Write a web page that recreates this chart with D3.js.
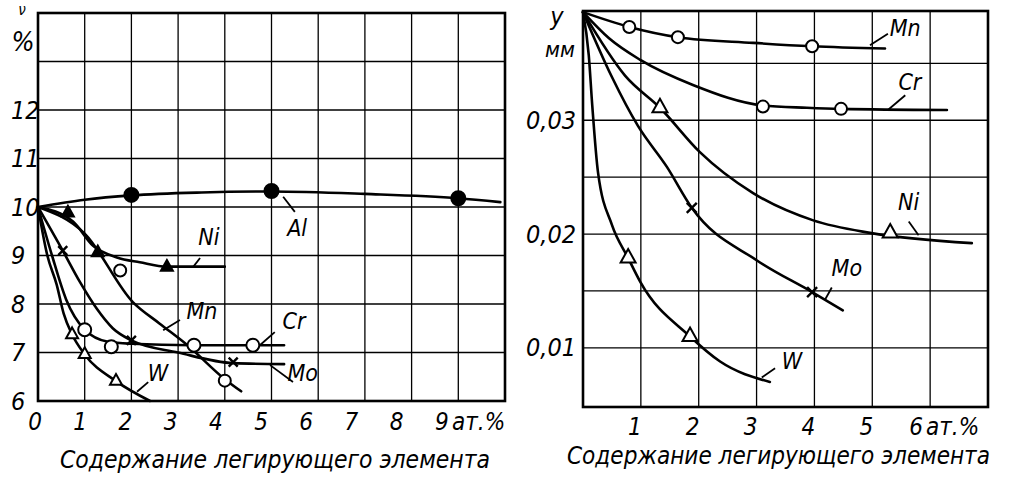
<!DOCTYPE html>
<html>
<head>
<meta charset="utf-8">
<script src="https://cdn.jsdelivr.net/npm/d3@7"></script>
<style>
body{margin:0;background:#fff}
text{font-family:"Liberation Sans Narrow","DejaVu Sans Condensed","Liberation Sans",sans-serif;font-style:italic;fill:#000}
</style>
</head>
<body>
<svg id="fig" width="1024" height="481"></svg>
<script>
// ---- гр. слева : % против ат.% ----
const gaucheXTicks = [0,1,2,3,4,5,6,7,8,9];
const gaucheYTicks = [6,7,8,9,10,11,12];

const alCourbe = [[0,10],[1,10.15],[2,10.24],[3.5,10.3],[5,10.32],[7,10.27],[9,10.18],[9.9,10.1]];
const alPoints = [[2,10.25],[5,10.33],[9,10.18]];
const niCourbe = [[0,10],[0.75,9.7],[1.18,9.2],[1.69,8.96],[2.18,8.86],[2.76,8.77],[4.0,8.77]];
const niPoints = [[0.64,9.88],[1.28,9.06],[2.76,8.76]];
const mnCourbe = [[0,10],[1,9.45],[2.03,8.04],[2.6,7.6],[3.2,7.15],[4.0,6.45],[4.35,6.2]];
const mnPoints = [[1.76,8.69],[4.0,6.42]];
const crCourbe = [[0,10],[0.3,9.0],[0.6,8.1],[1.0,7.47],[1.5,7.22],[2.0,7.18],[3.3,7.15],[5.27,7.15]];
const crPoints = [[1.0,7.47],[1.57,7.12],[3.34,7.15],[4.6,7.15]];
const moCourbe = [[0,10],[0.53,9.1],[0.9,8.45],[1.26,7.9],[1.6,7.5],[2.0,7.25],[3.0,7.0],[4.18,6.78],[5.27,6.76]];
const moPoints = [[0.53,9.1],[2.0,7.25],[4.18,6.8]];
const wCourbe = [[0,10],[0.2,9.0],[0.4,8.4],[0.55,7.8],[0.73,7.37],[1.0,6.96],[1.67,6.41],[2.4,6.0]];
const wPoints = [[0.73,7.37],[1.0,6.96],[1.67,6.41]];

// étiquettes : [texte, x, y, x1, y1, x2, y2] (unités des données)
const gaucheNoms = [
  ["Al",5.55,9.57,5.25,10.21,5.5,9.9],
  ["Ni",3.66,9.38,3.32,8.76,3.47,8.95],
  ["Mn",3.51,7.86,2.68,7.46,3.04,7.67],
  ["Cr",5.48,7.65,4.75,7.15,5.07,7.42],
  ["Mo",5.67,6.58,4.97,6.74,5.46,6.39],
  ["W",2.57,6.58,2.12,6.19,2.36,6.39]
];

// ---- гр. справа : y, мм против ат.% ----
const droiteXTicks = [1,2,3,4,5,6];
const droiteYTicks = [0.01,0.02,0.03];
const droiteYGrid = [0.01,0.015,0.02,0.025,0.03,0.035];

const mnCourbeD = [[0,0.0395],[0.8,0.0382],[1.64,0.0373],[2.94,0.0368],[3.96,0.0365],[5.22,0.0363]];
const mnPointsD = [[0.8,0.0382],[1.64,0.0373],[3.96,0.0365]];
const crCourbeD = [[0,0.0395],[0.45,0.0372],[0.99,0.0353],[1.9,0.0331],[3.11,0.0313],[3.87,0.0311],[4.46,0.031],[6.29,0.0309]];
const crPointsD = [[3.11,0.0312],[4.46,0.031]];
const niCourbeD = [[0,0.0395],[0.73,0.0339],[1.33,0.0311],[2.02,0.0272],[2.94,0.0236],[3.98,0.0212],[4.96,0.0201],[6.72,0.0192]];
const niPointsD = [[1.33,0.0311],[5.31,0.0201]];
const moCourbeD = [[0,0.0395],[0.5,0.0338],[0.95,0.0295],[1.45,0.0259],[1.88,0.0223],[3.0,0.0177],[3.96,0.0149],[4.49,0.0133]];
const moPointsD = [[1.88,0.0223],[3.96,0.0149]];
const wCourbeD = [[0,0.0395],[0.1,0.0357],[0.16,0.0313],[0.26,0.0254],[0.5,0.0208],[0.78,0.0179],[0.99,0.0158],[1.85,0.011],[2.37,0.0088],[3.23,0.007]];
const wPointsD = [[0.78,0.0179],[1.85,0.011]];

const droiteNoms = [
  ["Mn",5.57,0.0381,4.96,0.0366,5.27,0.0376],
  ["Cr",5.65,0.0334,5.27,0.0309,5.57,0.0322],
  ["Ni",5.63,0.0228,5.63,0.0211,5.8,0.0199],
  ["Mo",4.56,0.0170,4.18,0.0142,4.3,0.0153],
  ["W",3.61,0.0088,3.09,0.0074,3.32,0.0082]
];

const titre = "Содержание легирующего элемента";

const svg = d3.select("#fig");

function panneau(sx, sy, xg, yg){
  const g = svg.append("g");
  const [x0,x1] = sx.range(), [y0,y1] = sy.range();
  g.selectAll(null).data(xg).join("line")
    .attr("x1",d=>sx(d)).attr("x2",d=>sx(d)).attr("y1",y0).attr("y2",y1)
    .attr("stroke","#000").attr("stroke-width",1.3);
  g.selectAll(null).data(yg).join("line")
    .attr("y1",d=>sy(d)).attr("y2",d=>sy(d)).attr("x1",x0).attr("x2",x1)
    .attr("stroke","#000").attr("stroke-width",1.3);
  g.append("rect").attr("x",x0).attr("y",y1).attr("width",x1-x0).attr("height",y0-y1)
    .attr("fill","none").attr("stroke","#000").attr("stroke-width",2.6);
  return g;
}

function courbe(g, sx, sy, pts){
  const l = d3.line().x(d=>sx(d[0])).y(d=>sy(d[1])).curve(d3.curveMonotoneX);
  g.append("path").attr("d",l(pts)).attr("fill","none").attr("stroke","#000")
    .attr("stroke-width",2.6).attr("stroke-linecap","round");
}

function marques(g, sx, sy, pts, type, taille){
  pts.forEach(p=>{
    const x = sx(p[0]), y = sy(p[1]);
    if(type=="o" || type=="•"){
      g.append("circle").attr("cx",x).attr("cy",y).attr("r",taille)
        .attr("fill",type=="o"?"#fff":"#000").attr("stroke","#000").attr("stroke-width",2);
    } else if(type=="^" || type=="▲"){
      const h = taille*0.9;
      g.append("path").attr("d",`M${x},${y-h*0.66}L${x+taille/2},${y+h*0.34}L${x-taille/2},${y+h*0.34}Z`)
        .attr("fill",type=="^"?"#fff":"#000").attr("stroke","#000").attr("stroke-width",2);
    } else {
      const s = taille/2;
      g.append("path").attr("d",`M${x-s},${y-s}L${x+s},${y+s}M${x+s},${y-s}L${x-s},${y+s}`)
        .attr("stroke","#000").attr("stroke-width",2.4);
    }
  });
}

function noms(g, sx, sy, liste){
  liste.forEach(n=>{
    g.append("line").attr("x1",sx(n[3])).attr("y1",sy(n[4])).attr("x2",sx(n[5])).attr("y2",sy(n[6]))
      .attr("stroke","#000").attr("stroke-width",1.8);
    g.append("text").attr("x",sx(n[1])).attr("y",sy(n[2])).attr("text-anchor","middle")
      .attr("dominant-baseline","central").attr("font-size",23).text(n[0]);
  });
}

// ---------- panneau gauche ----------
const gx = d3.scaleLinear().domain([0,10]).range([38,505]);
const gy = d3.scaleLinear().domain([6,14]).range([401,13]);
const G = panneau(gx, gy, d3.range(1,10), d3.range(7,14));

courbe(G,gx,gy,alCourbe);
courbe(G,gx,gy,niCourbe);
courbe(G,gx,gy,mnCourbe);
courbe(G,gx,gy,crCourbe);
courbe(G,gx,gy,moCourbe);
courbe(G,gx,gy,wCourbe);
marques(G,gx,gy,alPoints,"•",7);
marques(G,gx,gy,niPoints,"▲",12);
marques(G,gx,gy,mnPoints,"o",6);
marques(G,gx,gy,crPoints,"o",6.5);
marques(G,gx,gy,moPoints,"x",9);
marques(G,gx,gy,wPoints,"^",12);
noms(G,gx,gy,gaucheNoms);

G.selectAll(null).data(gaucheXTicks).join("text")
  .attr("x",d=>gx(d)-3-1.5*d).attr("y",422).attr("text-anchor","middle")
  .attr("dominant-baseline","central").attr("font-size",24).text(d=>d);
G.append("text").attr("x",452).attr("y",422).attr("dominant-baseline","central")
  .attr("font-size",24).text("ат.%");
G.selectAll(null).data(gaucheYTicks).join("text")
  .attr("x",11).attr("y",d=>gy(d)).attr("dominant-baseline","central")
  .attr("font-size",25).text(d=>d);
G.append("text").attr("x",22).attr("y",15).attr("text-anchor","middle").attr("font-size",15).text("ν");
G.append("text").attr("x",23).attr("y",41).attr("text-anchor","middle")
  .attr("dominant-baseline","central").attr("font-size",27).text("%");
G.append("text").attr("x",60).attr("y",468).attr("font-size",25)
  .attr("textLength",430).attr("lengthAdjust","spacingAndGlyphs").text(titre);

// ---------- panneau droit ----------
const dx = d3.scaleLinear().domain([0,7]).range([583,988]);
const dy = d3.scaleLinear().domain([0.0048,0.0396]).range([407,11]);
const D = panneau(dx, dy, d3.range(1,7), droiteYGrid);

courbe(D,dx,dy,mnCourbeD);
courbe(D,dx,dy,crCourbeD);
courbe(D,dx,dy,niCourbeD);
courbe(D,dx,dy,moCourbeD);
courbe(D,dx,dy,wCourbeD);
marques(D,dx,dy,mnPointsD,"o",6);
marques(D,dx,dy,crPointsD,"o",6);
marques(D,dx,dy,niPointsD,"^",15);
marques(D,dx,dy,moPointsD,"x",10);
marques(D,dx,dy,wPointsD,"^",15);
noms(D,dx,dy,droiteNoms);

D.selectAll(null).data(droiteXTicks).join("text")
  .attr("x",d=>dx(d)-6-(d==6?8:0)).attr("y",427).attr("text-anchor","middle")
  .attr("dominant-baseline","central").attr("font-size",24).text(d=>d);
D.append("text").attr("x",926).attr("y",427).attr("dominant-baseline","central")
  .attr("font-size",24).text("ат.%");
D.selectAll(null).data(droiteYTicks).join("text")
  .attr("x",576).attr("y",d=>dy(d)).attr("text-anchor","end").attr("dominant-baseline","central")
  .attr("font-size",25).text(d=>d3.format(".2f")(d).replace(".",","));
D.append("text").attr("x",557).attr("y",25).attr("text-anchor","middle").attr("font-size",25).text("y");
D.append("text").attr("x",560).attr("y",57).attr("text-anchor","middle").attr("font-size",22).text("мм");
D.append("text").attr("x",567).attr("y",464).attr("font-size",25)
  .attr("textLength",423).attr("lengthAdjust","spacingAndGlyphs").text(titre);
</script>
</body>
</html>
